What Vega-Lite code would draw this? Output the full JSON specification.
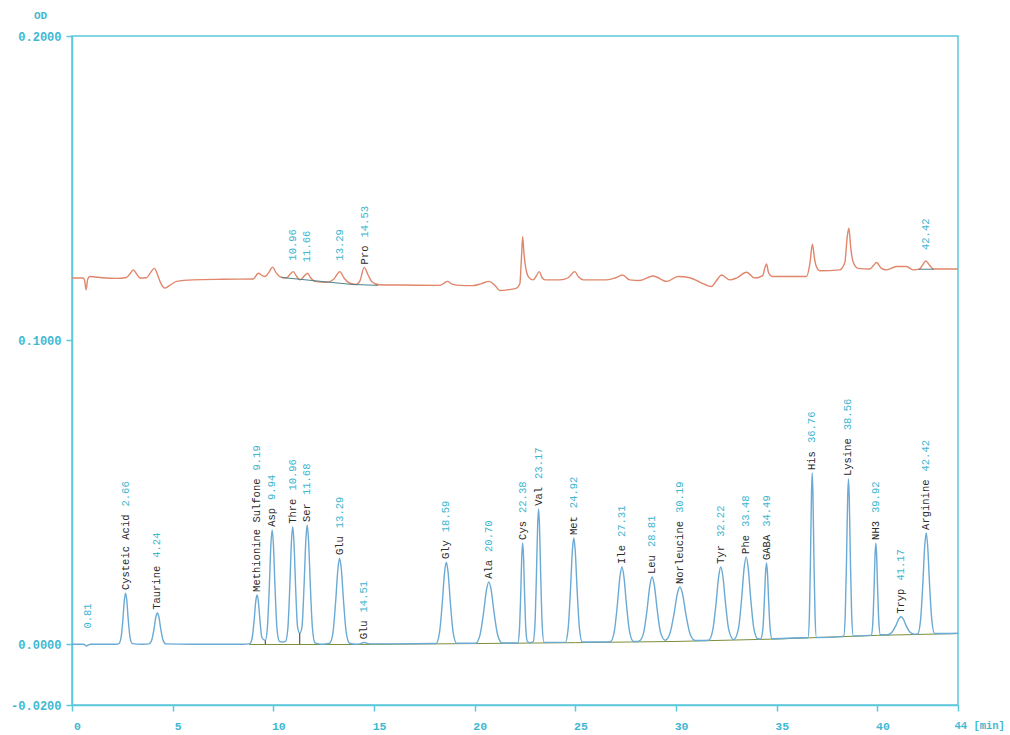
{
  "$schema": "https://vega.github.io/schema/vega-lite/v6.json",
  "width": 886,
  "height": 669,
  "autosize": {"type": "none"},
  "padding": {"left": 72, "top": 36, "right": 52, "bottom": 30},
  "background": "white",
  "config": {
    "view": {"stroke": "#5cc8dc", "strokeWidth": 1.5},
    "axis": {
      "grid": false,
      "domainColor": "#5cc8dc",
      "domainWidth": 1.5,
      "tickColor": "#5cc8dc",
      "tickWidth": 1.5,
      "tickSize": 6,
      "labelColor": "#3fb8d2",
      "labelFont": "Liberation Mono",
      "labelFontWeight": "bold",
      "labelFontSize": 12,
      "titleColor": "#3fb8d2",
      "titleFont": "Liberation Mono",
      "titleFontWeight": "bold",
      "titleFontSize": 11
    }
  },
  "datasets": {
    "blue": [
      {"t":0,"od":0},{"t":0.55,"od":0},{"t":0.64,"od":-0.0002},{"t":0.73,"od":-0.0006},{"t":0.82,"od":-0.0002},{"t":0.92,"od":0},{"t":2.2,"od":0},
      {"t":2.33,"od":0.0002},{"t":2.44,"od":0.0023},{"t":2.528,"od":0.0082},{"t":2.605,"od":0.0148},{"t":2.66,"od":0.0168},{"t":2.715,"od":0.0148},{"t":2.792,"od":0.0082},{"t":2.88,"od":0.0023},{"t":2.99,"od":0.0002},{"t":3.5,"od":0},
      {"t":3.82,"od":0.0001},{"t":3.96,"od":0.0014},{"t":4.072,"od":0.005},{"t":4.17,"od":0.0091},{"t":4.24,"od":0.0103},{"t":4.31,"od":0.0091},{"t":4.408,"od":0.005},{"t":4.52,"od":0.0014},{"t":4.66,"od":0.0001},{"t":6,"od":0},{"t":8.5,"od":0},{"t":8.83,"od":0.0002},
      {"t":8.95,"od":0.0022},{"t":9.046,"od":0.0079},{"t":9.13,"od":0.0143},{"t":9.19,"od":0.0162},{"t":9.25,"od":0.0143},{"t":9.334,"od":0.0079},{"t":9.43,"od":0.0022},{"t":9.6,"od":0.0012},
      {"t":9.7,"od":0.0051},{"t":9.796,"od":0.0184},{"t":9.88,"od":0.0331},{"t":9.94,"od":0.0376},{"t":10.0,"od":0.0331},{"t":10.084,"od":0.0184},{"t":10.18,"od":0.0051},{"t":10.3,"od":0.0009},{"t":10.45,"od":0.0007},{"t":10.6,"od":0.0009},
      {"t":10.72,"od":0.0052},{"t":10.816,"od":0.0189},{"t":10.9,"od":0.034},{"t":10.96,"od":0.0386},{"t":11.02,"od":0.034},{"t":11.104,"od":0.0189},{"t":11.2,"od":0.0058},{"t":11.31,"od":0.0036},
      {"t":11.42,"od":0.0056},{"t":11.524,"od":0.0192},{"t":11.615,"od":0.0345},{"t":11.68,"od":0.0392},{"t":11.745,"od":0.0345},{"t":11.836,"od":0.0192},{"t":11.94,"od":0.0053},{"t":12.07,"od":0.0004},{"t":12.4,"od":0},
      {"t":12.795,"od":0.0003},{"t":12.96,"od":0.0038},{"t":13.092,"od":0.0139},{"t":13.208,"od":0.0249},{"t":13.29,"od":0.0283},{"t":13.372,"od":0.0249},{"t":13.488,"od":0.0139},{"t":13.62,"od":0.0038},{"t":13.785,"od":0.0003},{"t":14.1,"od":0},
      {"t":14.3,"od":0.0001},{"t":14.42,"od":0.0004},{"t":14.51,"od":0.0006},{"t":14.6,"od":0.0004},{"t":14.8,"od":0.0001},{"t":16,"od":0.0001},{"t":18.08,"od":0.0002},
      {"t":18.25,"od":0.0038},{"t":18.386,"od":0.0133},{"t":18.505,"od":0.0238},{"t":18.59,"od":0.027},{"t":18.675,"od":0.0238},{"t":18.794,"od":0.0133},{"t":18.93,"od":0.0038},{"t":19.1,"od":0.0003},{"t":19.7,"od":0.0003},
      {"t":20.04,"od":0.0003},{"t":20.26,"od":0.003},{"t":20.436,"od":0.0102},{"t":20.59,"od":0.0181},{"t":20.7,"od":0.0205},{"t":20.81,"od":0.0181},{"t":20.964,"od":0.0102},{"t":21.14,"od":0.003},{"t":21.36,"od":0.0004},{"t":21.9,"od":0.0004},
      {"t":22.14,"od":0.0004},{"t":22.22,"od":0.0048},{"t":22.284,"od":0.0165},{"t":22.34,"od":0.0294},{"t":22.38,"od":0.0333},{"t":22.42,"od":0.0294},{"t":22.476,"od":0.0165},{"t":22.54,"od":0.0048},{"t":22.62,"od":0.0008},{"t":22.76,"od":0.0005},
      {"t":22.9,"od":0.0008},{"t":22.99,"od":0.0064},{"t":23.062,"od":0.0221},{"t":23.125,"od":0.0392},{"t":23.17,"od":0.0445},{"t":23.215,"od":0.0392},{"t":23.278,"od":0.0221},{"t":23.35,"od":0.0064},{"t":23.44,"od":0.0006},{"t":24.3,"od":0.0006},
      {"t":24.5,"od":0.0006},{"t":24.64,"od":0.0052},{"t":24.752,"od":0.0174},{"t":24.85,"od":0.0308},{"t":24.92,"od":0.0349},{"t":24.99,"od":0.0308},{"t":25.088,"od":0.0174},{"t":25.2,"od":0.0052},{"t":25.34,"od":0.0007},{"t":26.5,"od":0.0007},
      {"t":26.74,"od":0.0008},{"t":26.93,"od":0.0041},{"t":27.082,"od":0.0129},{"t":27.215,"od":0.0224},{"t":27.31,"od":0.0254},{"t":27.405,"od":0.0224},{"t":27.538,"od":0.0129},{"t":27.69,"od":0.0041},{"t":27.88,"od":0.0009},{"t":28.05,"od":0.0009},
      {"t":28.18,"od":0.0011},{"t":28.39,"od":0.0038},{"t":28.558,"od":0.0113},{"t":28.705,"od":0.0196},{"t":28.81,"od":0.0221},{"t":28.915,"od":0.0196},{"t":29.062,"od":0.0113},{"t":29.23,"od":0.0038},{"t":29.46,"od":0.0013},
      {"t":29.69,"od":0.0034},{"t":29.89,"od":0.0097},{"t":30.065,"od":0.0167},{"t":30.19,"od":0.0188},{"t":30.315,"od":0.0167},{"t":30.49,"od":0.0097},{"t":30.69,"od":0.0034},{"t":30.94,"od":0.0012},{"t":31.3,"od":0.0012},
      {"t":31.62,"od":0.0013},{"t":31.82,"od":0.0046},{"t":31.98,"od":0.0131},{"t":32.12,"od":0.0225},{"t":32.22,"od":0.0254},{"t":32.32,"od":0.0225},{"t":32.46,"od":0.0131},{"t":32.62,"od":0.0046},{"t":32.86,"od":0.0015},
      {"t":33.1,"od":0.0052},{"t":33.252,"od":0.0148},{"t":33.385,"od":0.0254},{"t":33.48,"od":0.0287},{"t":33.575,"od":0.0254},{"t":33.708,"od":0.0148},{"t":33.86,"od":0.0052},{"t":34.05,"od":0.0018},{"t":34.2,"od":0.0017},
      {"t":34.31,"od":0.0051},{"t":34.382,"od":0.014},{"t":34.445,"od":0.0237},{"t":34.49,"od":0.0267},{"t":34.535,"od":0.0237},{"t":34.598,"od":0.014},{"t":34.67,"od":0.0051},{"t":34.76,"od":0.0018},{"t":36.3,"od":0.0021},
      {"t":36.55,"od":0.0021},{"t":36.62,"od":0.0094},{"t":36.676,"od":0.0287},{"t":36.725,"od":0.0498},{"t":36.76,"od":0.0563},{"t":36.795,"od":0.0498},{"t":36.844,"od":0.0287},{"t":36.9,"od":0.0094},{"t":36.97,"od":0.0022},{"t":38.2,"od":0.0025},
      {"t":38.32,"od":0.0026},{"t":38.4,"od":0.0095},{"t":38.464,"od":0.0279},{"t":38.52,"od":0.0481},{"t":38.56,"od":0.0543},{"t":38.6,"od":0.0481},{"t":38.656,"od":0.0279},{"t":38.72,"od":0.0095},{"t":38.8,"od":0.0027},{"t":39.6,"od":0.0029},
      {"t":39.695,"od":0.003},{"t":39.77,"od":0.0071},{"t":39.83,"od":0.0178},{"t":39.883,"od":0.0297},{"t":39.92,"od":0.0333},{"t":39.957,"od":0.0297},{"t":40.01,"od":0.0178},{"t":40.07,"od":0.0071},{"t":40.145,"od":0.0031},{"t":40.51,"od":0.0031},
      {"t":40.73,"od":0.004},{"t":40.906,"od":0.006},{"t":41.06,"od":0.0083},{"t":41.17,"od":0.009},{"t":41.28,"od":0.0083},{"t":41.434,"od":0.006},{"t":41.61,"od":0.004},{"t":41.83,"od":0.0033},{"t":42.0,"od":0.0034},
      {"t":42.14,"od":0.0079},{"t":42.252,"od":0.0197},{"t":42.35,"od":0.0326},{"t":42.42,"od":0.0366},{"t":42.49,"od":0.0326},{"t":42.588,"od":0.0197},{"t":42.7,"od":0.0079},{"t":42.84,"od":0.0035},{"t":44,"od":0.0036}
    ],
    "orange": [
      {"t":0,"od":0.1204},{"t":0.55,"od":0.1204},{"t":0.63,"od":0.1195},{"t":0.7,"od":0.1165},{"t":0.78,"od":0.12},{"t":0.89,"od":0.1209},{"t":1.5,"od":0.1205},{"t":2.2,"od":0.1203},{"t":2.7,"od":0.1206},{"t":2.9,"od":0.122},{"t":3.05,"od":0.1231},{"t":3.2,"od":0.1218},{"t":3.38,"od":0.1204},{"t":3.7,"od":0.1205},{"t":3.9,"od":0.1222},{"t":4.09,"od":0.1236},{"t":4.25,"od":0.1215},{"t":4.37,"od":0.1193},{"t":4.62,"od":0.1171},{"t":4.9,"od":0.1182},{"t":5.2,"od":0.1193},{"t":6.0,"od":0.1198},{"t":7.5,"od":0.12},{"t":9.0,"od":0.1201},{"t":9.25,"od":0.122},{"t":9.45,"od":0.1212},{"t":9.58,"od":0.1209},{"t":9.8,"od":0.1225},{"t":9.96,"od":0.124},{"t":10.15,"od":0.122},{"t":10.32,"od":0.1209},{"t":10.65,"od":0.1204},{"t":10.85,"od":0.1218},{"t":10.99,"od":0.1225},{"t":11.15,"od":0.121},{"t":11.32,"od":0.1198},{"t":11.55,"od":0.1212},{"t":11.7,"od":0.122},{"t":11.85,"od":0.1205},{"t":12.06,"od":0.1193},{"t":12.64,"od":0.119},{"t":13.0,"od":0.12},{"t":13.15,"od":0.1215},{"t":13.3,"od":0.1225},{"t":13.5,"od":0.1205},{"t":13.8,"od":0.1187},{"t":14.1,"od":0.1183},{"t":14.3,"od":0.1195},{"t":14.51,"od":0.1239},{"t":14.7,"od":0.1215},{"t":14.88,"od":0.1193},{"t":15.25,"od":0.1182},{"t":16.5,"od":0.1181},{"t":18.27,"od":0.118},{"t":18.45,"od":0.1186},{"t":18.64,"od":0.1193},{"t":18.85,"od":0.1185},{"t":19.2,"od":0.118},{"t":19.9,"od":0.1179},{"t":20.3,"od":0.1185},{"t":20.72,"od":0.1193},{"t":21.0,"od":0.118},{"t":21.25,"od":0.1163},{"t":21.7,"od":0.1166},{"t":22.08,"od":0.1171},{"t":22.24,"od":0.1185},{"t":22.32,"od":0.127},{"t":22.38,"od":0.134},{"t":22.44,"od":0.129},{"t":22.49,"od":0.1258},{"t":22.66,"od":0.1209},{"t":22.9,"od":0.1198},{"t":23.05,"od":0.121},{"t":23.2,"od":0.1225},{"t":23.35,"od":0.1205},{"t":23.5,"od":0.1198},{"t":24.23,"od":0.1198},{"t":24.64,"od":0.1205},{"t":24.97,"od":0.1225},{"t":25.15,"od":0.1208},{"t":25.39,"od":0.1198},{"t":26.55,"od":0.1198},{"t":27.0,"od":0.1205},{"t":27.34,"od":0.1214},{"t":27.7,"od":0.1198},{"t":28.2,"od":0.1196},{"t":28.86,"od":0.1211},{"t":29.53,"od":0.1193},{"t":30.1,"od":0.1209},{"t":30.68,"od":0.1205},{"t":31.2,"od":0.119},{"t":31.76,"od":0.1176},{"t":32.0,"od":0.1195},{"t":32.26,"od":0.1214},{"t":32.67,"od":0.1198},{"t":33.0,"od":0.1204},{"t":33.5,"od":0.1223},{"t":33.91,"od":0.1204},{"t":34.3,"od":0.1212},{"t":34.42,"od":0.124},{"t":34.49,"od":0.125},{"t":34.58,"od":0.1225},{"t":34.66,"od":0.1214},{"t":34.8,"od":0.1209},{"t":36.48,"od":0.1209},{"t":36.64,"od":0.125},{"t":36.77,"od":0.1315},{"t":36.87,"od":0.127},{"t":36.94,"od":0.1247},{"t":37.14,"od":0.1228},{"t":38.13,"od":0.1231},{"t":38.38,"od":0.1255},{"t":38.5,"od":0.134},{"t":38.58,"od":0.1368},{"t":38.68,"od":0.13},{"t":38.79,"od":0.1258},{"t":39.04,"od":0.1236},{"t":39.62,"od":0.1234},{"t":39.8,"od":0.1245},{"t":39.95,"od":0.1255},{"t":40.2,"od":0.1236},{"t":40.45,"od":0.1231},{"t":40.95,"od":0.1242},{"t":41.44,"od":0.1242},{"t":41.77,"od":0.1231},{"t":42.1,"od":0.1234},{"t":42.25,"od":0.1248},{"t":42.4,"od":0.126},{"t":42.6,"od":0.1245},{"t":42.77,"od":0.1234},{"t":44,"od":0.1234}
    ],
    "baselines": [
      {"seg":"b","t":8.8,"od":-0.0001},{"seg":"b","t":14,"od":-0.0001},{"seg":"b","t":20,"od":0.0002},{"seg":"b","t":25,"od":0.0005},{"seg":"b","t":30,"od":0.0009},{"seg":"b","t":35,"od":0.0017},{"seg":"b","t":40,"od":0.0029},{"seg":"b","t":44,"od":0.0035}
    ],
    "obase": [
      {"seg":"o1","t":10.4,"od":0.1206},{"seg":"o1","t":13.9,"od":0.1183},{"seg":"o1","t":15.2,"od":0.118},
      {"seg":"o2","t":42.05,"od":0.1233},{"seg":"o2","t":42.8,"od":0.1233}
    ],
    "drops": [
      {"t":9.6,"od":0,"od2":0.0012},{"t":11.31,"od":0,"od2":0.0036}
    ],
    "labels": [
      {"name":"","rt":"0.81","t":0.81,"od":0.0015},
      {"name":"Cysteic Acid","rt":"2.66","t":2.66,"od":0.0168},
      {"name":"Taurine","rt":"4.24","t":4.24,"od":0.0103},
      {"name":"Methionine Sulfone","rt":"9.19","t":9.19,"od":0.0162},
      {"name":"Asp","rt":"9.94","t":9.94,"od":0.0376},
      {"name":"Thre","rt":"10.96","t":10.96,"od":0.0386},
      {"name":"Ser","rt":"11.68","t":11.68,"od":0.0392},
      {"name":"Glu","rt":"13.29","t":13.29,"od":0.0283},
      {"name":"Glu","rt":"14.51","t":14.51,"od":0.0006},
      {"name":"Gly","rt":"18.59","t":18.59,"od":0.027},
      {"name":"Ala","rt":"20.70","t":20.7,"od":0.0205},
      {"name":"Cys","rt":"22.38","t":22.38,"od":0.0333},
      {"name":"Val","rt":"23.17","t":23.17,"od":0.0445},
      {"name":"Met","rt":"24.92","t":24.92,"od":0.0349},
      {"name":"Ile","rt":"27.31","t":27.31,"od":0.0254},
      {"name":"Leu","rt":"28.81","t":28.81,"od":0.0221},
      {"name":"Norleucine","rt":"30.19","t":30.19,"od":0.0188},
      {"name":"Tyr","rt":"32.22","t":32.22,"od":0.0254},
      {"name":"Phe","rt":"33.48","t":33.48,"od":0.0287},
      {"name":"GABA","rt":"34.49","t":34.49,"od":0.0267},
      {"name":"His","rt":"36.76","t":36.76,"od":0.0563},
      {"name":"Lysine","rt":"38.56","t":38.56,"od":0.0543},
      {"name":"NH3","rt":"39.92","t":39.92,"od":0.0333},
      {"name":"Tryp","rt":"41.17","t":41.17,"od":0.009},
      {"name":"Arginine","rt":"42.42","t":42.42,"od":0.0366},
      {"name":"","rt":"10.96","t":10.96,"od":0.1225},
      {"name":"","rt":"11.66","t":11.66,"od":0.122},
      {"name":"","rt":"13.29","t":13.29,"od":0.1225},
      {"name":"Pro","rt":"14.53","t":14.53,"od":0.1239},
      {"name":"","rt":"42.42","t":42.42,"od":0.126}
    ]
  },
  "encoding": {
    "x": {
      "field": "t",
      "type": "quantitative",
      "scale": {"domain": [0, 44], "nice": false, "zero": false},
      "axis": {
        "title": null,
        "values": [0, 5, 10, 15, 20, 25, 30, 35, 40, 44],
        "format": "d",
        "labelExpr": "datum.value == 44 ? '44 [min]' : datum.label",
        "labelAlign": {"condition": {"test": "datum.value == 44", "value": "left"}, "value": "center"},
        "labelOffset": {"condition": {"test": "datum.value == 44", "value": -4}, "value": 5},
        "labelFontSize": {"condition": {"test": "datum.value == 44", "value": 10.5}, "value": 11.5},
        "labelPadding": 9,
        "labelFlush": false,
        "labelOverlap": false
      }
    },
    "y": {
      "field": "od",
      "type": "quantitative",
      "scale": {"domain": [-0.02, 0.2], "nice": false, "zero": false},
      "axis": {
        "title": "OD",
        "titleAngle": 0,
        "titleAlign": "center",
        "titleBaseline": "middle",
        "titleX": -32,
        "titleY": -21,
        "values": [-0.02, 0, 0.1, 0.2],
        "format": ".4f",
        "labelExpr": "replace(datum.label, '−', '-')",
        "labelPadding": 5,
        "labelFlush": false,
        "labelOverlap": false
      }
    }
  },
  "layer": [
    {
      "data": {"name": "baselines"},
      "mark": {"type": "line", "color": "#7c8f3c", "strokeWidth": 1, "interpolate": "linear"},
      "encoding": {"detail": {"field": "seg"}}
    },
    {
      "data": {"name": "blue"},
      "mark": {"type": "line", "color": "#6aaad4", "strokeWidth": 1.4, "interpolate": "monotone"},
      "encoding": {}
    },
    {
      "data": {"name": "orange"},
      "mark": {"type": "line", "color": "#e0866a", "strokeWidth": 1.4, "interpolate": "monotone"},
      "encoding": {}
    },
    {
      "data": {"name": "obase"},
      "mark": {"type": "line", "color": "#4f8288", "strokeWidth": 1, "interpolate": "linear"},
      "encoding": {"detail": {"field": "seg"}}
    },
    {
      "data": {"name": "drops"},
      "mark": {"type": "rule", "color": "#333333", "strokeWidth": 1},
      "encoding": {"y2": {"field": "od2"}}
    },
    {
      "data": {"name": "labels"},
      "mark": {"type": "text", "angle": 270, "align": "left", "baseline": "middle", "dx": 3, "font": "Liberation Mono", "fontSize": 10.5, "color": "#2a2a2a"},
      "encoding": {"text": {"field": "name"}}
    },
    {
      "data": {"name": "labels"},
      "mark": {"type": "text", "angle": 270, "align": "left", "baseline": "middle", "dx": {"expr": "11 + length(datum.name) * 6.3"}, "font": "Liberation Mono", "fontSize": 10.5, "color": "#3db6d0"},
      "encoding": {"text": {"field": "rt"}}
    }
  ]
}
